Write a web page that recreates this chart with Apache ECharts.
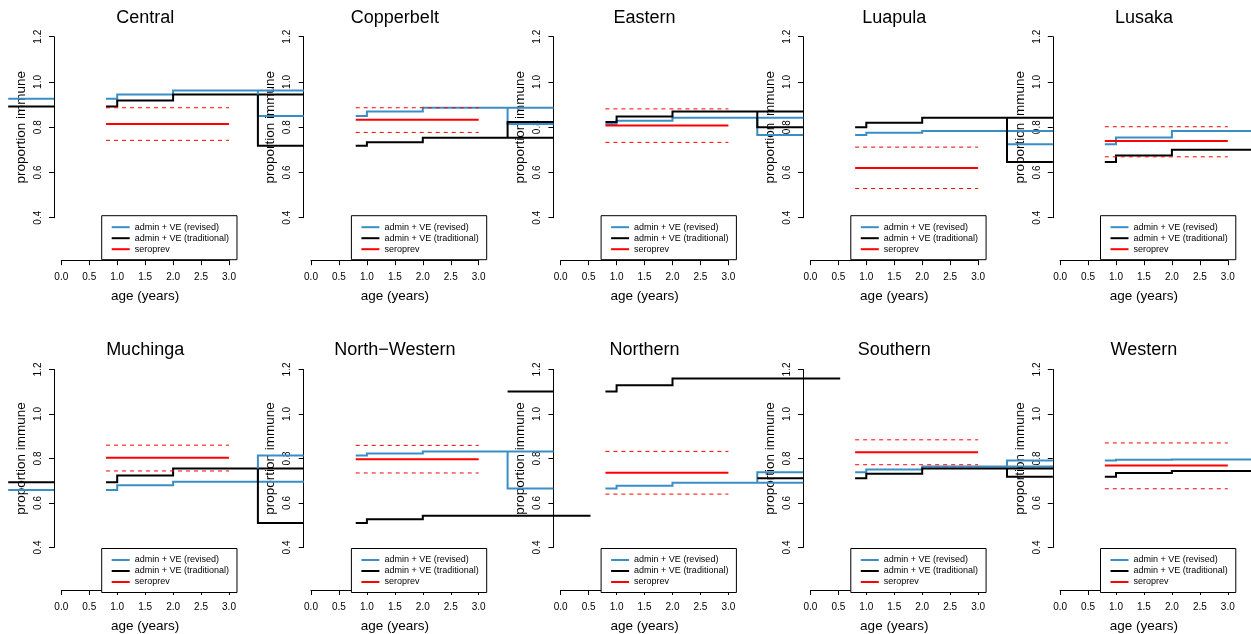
<!DOCTYPE html>
<html>
<head>
<meta charset="utf-8">
<script src="https://cdn.jsdelivr.net/npm/echarts@6/dist/echarts.min.js"></script>
<style>
  html, body { margin: 0; padding: 0; background: #fff; }
  #chart { width: 1251px; height: 634px; }
</style>
</head>
<body>
<div id="chart"></div>
<script>
// ---------------- data ----------------
const regions = ['Central', 'Copperbelt', 'Eastern', 'Luapula', 'Lusaka',
                 'Muchinga', 'North\u2212Western', 'Northern', 'Southern', 'Western'];
// step values for age groups starting at stepAges
const stepAges = [0.8, 1, 2];
const revised = [
  [0.926, 0.944, 0.962],
  [0.850, 0.869, 0.886],
  [0.814, 0.829, 0.842],
  [0.765, 0.776, 0.783],
  [0.725, 0.755, 0.783],
  [0.658, 0.680, 0.695],
  [0.813, 0.823, 0.832],
  [0.665, 0.677, 0.691],
  [0.738, 0.751, 0.764],
  [0.791, 0.794, 0.795]
];
const traditional = [
  [0.891, 0.918, 0.944],
  [0.718, 0.734, 0.753],
  [0.823, 0.847, 0.869],
  [0.800, 0.820, 0.842],
  [0.646, 0.675, 0.700],
  [0.693, 0.724, 0.755],
  [0.510, 0.527, 0.543],
  [1.101, 1.129, 1.160],
  [0.711, 0.732, 0.755],
  [0.718, 0.735, 0.744]
];
const seroprev = [0.814, 0.833, 0.807, 0.620, 0.739, 0.803, 0.797, 0.736, 0.828, 0.769];
const seroLo   = [0.742, 0.777, 0.733, 0.529, 0.669, 0.744, 0.735, 0.640, 0.772, 0.664];
const seroHi   = [0.886, 0.886, 0.881, 0.712, 0.802, 0.860, 0.859, 0.832, 0.884, 0.870];
const seroAges = [0.8, 3];
// ages where the overflowing step lines end (own panel's age units)
const revisedTailEnd     = [4.34, 4.34, 4.34, 4.34, 4.34, 4.34, 4.34, 4.34, 4.34, 4.34];
const traditionalTailEnd = [4.34, 4.34, 4.34, 4.34, 4.34, 4.34, 5.0, 5.0, 4.34, 4.34];
const leftPieceAges = [-0.95, -0.13];
const xTicks = [0, 3, 0.5];
const yTicks = [0.4, 1.2, 0.2];
const legendNames = ['admin + VE (revised)', 'admin + VE (traditional)', 'seroprev'];

// ---------------- layout / style ----------------
const COLW = 249.7, ROWH = 332.8, X0 = 61.3, YTOP = 36.7, GW = 167.7, GH = 181;
const BLUE = '#3a8ec6', BLACK = '#000000', RED = '#ff0000';
const FONT = 'Liberation Sans, Arial, Helvetica, sans-serif';

const grids = [], xAxes = [], yAxes = [], series = [], titles = [], legends = [];

// vertices of an R-style "s" step line (horizontal then vertical)
function stepPoints(vals, tail) {
  const pts = [];
  stepAges.forEach((a, k) => {
    if (k > 0) pts.push([a, vals[k - 1]]);
    pts.push([a, vals[k]]);
  });
  pts.push([tail, vals[vals.length - 1]]);
  return pts;
}

// custom polyline series: mapped through the grid's axes, not clipped
function polySeries(i, name, pts, color, width, dash) {
  return {
    type: 'custom', name: name, xAxisIndex: i, yAxisIndex: i, coordinateSystem: 'cartesian2d',
    clip: false, silent: true, animation: false, color: color,
    encode: { x: 0, y: 1 },
    data: pts,
    renderItem: function (params, api) {
      if (params.dataIndex !== 0) return null;
      const p = pts.map(d => api.coord(d));
      return {
        type: 'polyline',
        shape: { points: p },
        style: { stroke: color, lineWidth: width, fill: null, lineDash: dash || null,
                 lineJoin: 'miter', lineCap: 'butt' }
      };
    }
  };
}

regions.forEach((name, i) => {
  const c = i % 5, r = Math.floor(i / 5);
  const left = X0 + c * COLW, top = YTOP + r * ROWH;
  grids.push({ left: left, top: top, width: GW, height: GH, containLabel: false });
  xAxes.push({
    gridIndex: i, type: 'value', min: xTicks[0], max: xTicks[1], interval: xTicks[2],
    offset: 42.5,
    axisLine: { show: true, onZero: false, lineStyle: { color: '#000', width: 1 } },
    axisTick: { show: true, length: 5, lineStyle: { color: '#000', width: 1 } },
    axisLabel: { fontSize: 10, color: '#000', margin: 12, fontFamily: FONT,
                 formatter: v => v.toFixed(1) },
    splitLine: { show: false },
    name: 'age (years)', nameLocation: 'middle', nameGap: 29,
    nameTextStyle: { fontSize: 13.5, color: '#000', fontFamily: FONT }
  });
  yAxes.push({
    gridIndex: i, type: 'value', min: yTicks[0], max: yTicks[1], interval: yTicks[2],
    offset: 7.3,
    axisLine: { show: true, onZero: false, lineStyle: { color: '#000', width: 1 } },
    axisTick: { show: true, length: 5, lineStyle: { color: '#000', width: 1 } },
    axisLabel: { fontSize: 10, color: '#000', margin: 11, rotate: 90, fontFamily: FONT,
                 formatter: v => v.toFixed(1) },
    splitLine: { show: false },
    name: 'proportion immune', nameLocation: 'middle', nameRotate: 90, nameGap: 26,
    nameTextStyle: { fontSize: 13.5, color: '#000', fontFamily: FONT }
  });
  titles.push({
    text: name, left: left + GW / 2, top: top - 28, textAlign: 'center', padding: 0,
    textStyle: { fontSize: 18, fontWeight: 'normal', color: '#000', fontFamily: FONT, lineHeight: 18 }
  });
  legends.push({
    show: true, orient: 'vertical', left: left + 40.4, top: top + 179,
    padding: [6, 8, 5, 10], itemGap: 0, itemWidth: 18, itemHeight: 2, icon: 'rect',
    backgroundColor: '#fff', borderColor: '#000', borderWidth: 1, borderRadius: 0,
    selectedMode: false, data: legendNames, z: 10,
    textStyle: { fontSize: 9, lineHeight: 11, color: '#000', fontFamily: FONT }
  });

  // left pieces (drawn to the left of the y axis)
  const mkLeft = (vals, prevVals, prevTail) => {
    const d = [];
    if (c > 0 && prevTail < 4.5) d.push([leftPieceAges[0], prevVals[2]]);
    d.push([leftPieceAges[0], vals[0]]);
    d.push([leftPieceAges[1], vals[0]]);
    return d;
  };
  series.push(polySeries(i, 'rev-left',
    mkLeft(revised[i], revised[i - 1] || revised[i], c > 0 ? revisedTailEnd[i - 1] : 0), BLUE, 2));
  series.push(polySeries(i, 'trad-left',
    mkLeft(traditional[i], traditional[i - 1] || traditional[i], c > 0 ? traditionalTailEnd[i - 1] : 0), BLACK, 2));
  // main step lines
  series.push(polySeries(i, legendNames[0], stepPoints(revised[i], revisedTailEnd[i]), BLUE, 2));
  series.push(polySeries(i, legendNames[1], stepPoints(traditional[i], traditionalTailEnd[i]), BLACK, 2));
  series.push(polySeries(i, legendNames[2], seroAges.map(a => [a, seroprev[i]]), RED, 2));
  series.push(polySeries(i, 'sero-lo', seroAges.map(a => [a, seroLo[i]]), RED, 1, [4, 4]));
  series.push(polySeries(i, 'sero-hi', seroAges.map(a => [a, seroHi[i]]), RED, 1, [4, 4]));
});

const chart = echarts.init(document.getElementById('chart'), null, { renderer: 'canvas' });
chart.setOption({
  backgroundColor: '#fff',
  animation: false,
  title: titles,
  legend: legends,
  grid: grids,
  xAxis: xAxes,
  yAxis: yAxes,
  series: series
});
</script>
</body>
</html>
